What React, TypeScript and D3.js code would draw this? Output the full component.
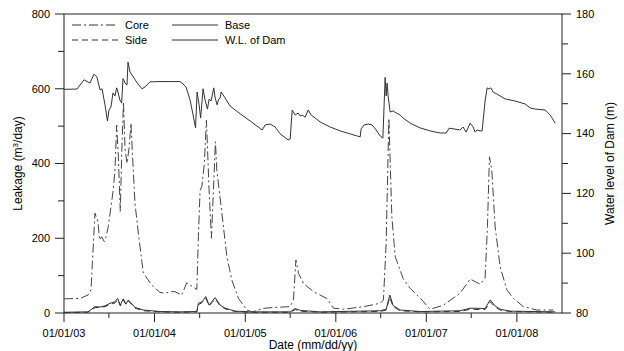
import React, { useEffect, useRef } from "react";
import * as d3 from "d3";

// decimal year, value (m) — W.L. of Dam (right axis)
const wlData: [number, number][] = [
  [2003.0, 154.8], [2003.144, 154.9], [2003.221, 158.0], [2003.287, 156.9], [2003.331, 159.9],
  [2003.364, 158.9], [2003.398, 154.6], [2003.42, 155.0], [2003.453, 149.6], [2003.48, 144.2],
  [2003.497, 147.9], [2003.519, 148.9], [2003.541, 153.6], [2003.563, 152.6], [2003.582, 155.3],
  [2003.596, 153.9], [2003.618, 151.2], [2003.637, 150.2], [2003.652, 158.4], [2003.681, 156.6],
  [2003.696, 156.3], [2003.707, 163.9], [2003.729, 160.6], [2003.773, 158.6], [2003.817, 156.6],
  [2003.861, 155.0], [2003.895, 155.6], [2003.95, 157.3], [2004.06, 157.4], [2004.171, 157.4],
  [2004.281, 157.4], [2004.314, 156.6], [2004.347, 155.6], [2004.392, 151.2], [2004.425, 146.2],
  [2004.452, 141.9], [2004.469, 153.9], [2004.491, 149.6], [2004.508, 145.2], [2004.535, 155.0],
  [2004.557, 151.2], [2004.583, 148.2], [2004.601, 151.5], [2004.623, 150.9], [2004.653, 155.3],
  [2004.668, 151.9], [2004.69, 149.6], [2004.706, 151.5], [2004.723, 151.9], [2004.734, 153.9],
  [2004.778, 151.9], [2004.833, 149.2], [2004.944, 146.6], [2005.054, 144.2], [2005.187, 141.2],
  [2005.22, 142.9], [2005.275, 143.2], [2005.33, 142.2], [2005.385, 139.9], [2005.474, 137.9],
  [2005.496, 138.2], [2005.518, 147.9], [2005.551, 146.2], [2005.584, 146.9], [2005.606, 145.9],
  [2005.628, 146.2], [2005.662, 145.5], [2005.695, 147.9], [2005.728, 146.2], [2005.772, 145.2],
  [2005.827, 143.9], [2005.938, 142.2], [2006.048, 140.9], [2006.159, 139.9], [2006.269, 138.9],
  [2006.28, 141.6], [2006.313, 142.9], [2006.357, 143.2], [2006.401, 142.9], [2006.446, 141.2],
  [2006.49, 139.2], [2006.52, 138.5], [2006.545, 158.8], [2006.556, 152.6], [2006.567, 156.9],
  [2006.578, 152.6], [2006.6, 147.2], [2006.633, 147.6], [2006.667, 146.9], [2006.711, 146.2],
  [2006.744, 145.2], [2006.821, 143.5], [2006.932, 141.9], [2007.042, 140.9], [2007.152, 140.2],
  [2007.219, 140.2], [2007.252, 141.8], [2007.318, 141.5], [2007.373, 141.2], [2007.406, 142.2],
  [2007.44, 140.5], [2007.484, 143.5], [2007.517, 142.2], [2007.539, 140.5], [2007.561, 141.2],
  [2007.594, 140.9], [2007.616, 140.9], [2007.649, 150.9], [2007.672, 155.3], [2007.694, 154.9],
  [2007.712, 155.3], [2007.738, 153.9], [2007.782, 153.2], [2007.87, 151.6], [2007.981, 150.9],
  [2008.091, 149.9], [2008.146, 148.6], [2008.202, 148.2], [2008.312, 147.9], [2008.367, 146.2],
  [2008.423, 143.5],
];

// decimal year, leakage (m3/day) — Core
const coreData: [number, number][] = [
  [2003.0, 38], [2003.177, 39], [2003.265, 48], [2003.298, 62], [2003.342, 267], [2003.375, 244],
  [2003.394, 195], [2003.416, 204], [2003.445, 191], [2003.464, 204], [2003.489, 231],
  [2003.544, 329], [2003.563, 383], [2003.582, 503], [2003.6, 420], [2003.622, 272],
  [2003.637, 420], [2003.657, 565], [2003.674, 440], [2003.696, 400], [2003.718, 440],
  [2003.74, 508], [2003.757, 420], [2003.784, 294], [2003.821, 214], [2003.876, 107],
  [2003.969, 75], [2004.06, 55], [2004.115, 53], [2004.171, 57], [2004.226, 57], [2004.3, 48],
  [2004.355, 81], [2004.466, 63], [2004.483, 204], [2004.502, 329], [2004.521, 338],
  [2004.549, 400], [2004.572, 516], [2004.601, 330], [2004.627, 200], [2004.649, 330],
  [2004.671, 458], [2004.686, 383], [2004.742, 267], [2004.797, 151], [2004.852, 88],
  [2004.925, 39], [2005.018, 8], [2005.073, 3], [2005.22, 13], [2005.33, 15], [2005.496, 17],
  [2005.532, 35], [2005.559, 142], [2005.588, 106], [2005.643, 79], [2005.753, 57],
  [2005.901, 39], [2005.974, 13], [2006.085, 10], [2006.306, 17], [2006.49, 26], [2006.526, 35],
  [2006.556, 186], [2006.586, 521], [2006.619, 258], [2006.656, 151], [2006.744, 92],
  [2006.821, 66], [2006.876, 53], [2006.932, 40], [2007.042, 10], [2007.189, 21],
  [2007.373, 53], [2007.484, 91], [2007.594, 77], [2007.649, 93], [2007.675, 231],
  [2007.697, 418], [2007.723, 383], [2007.76, 231], [2007.815, 124], [2007.889, 62],
  [2007.962, 39], [2008.072, 17], [2008.22, 8], [2008.404, 8],
];

// Side
const sideData: [number, number][] = [
  [2003.0, 1], [2003.265, 2], [2003.342, 14], [2003.398, 15], [2003.453, 17], [2003.508, 23],
  [2003.563, 27], [2003.593, 36], [2003.622, 19], [2003.655, 35], [2003.685, 22], [2003.71, 32],
  [2003.74, 25], [2003.784, 13], [2003.876, 6], [2004.06, 3], [2004.281, 2], [2004.466, 3],
  [2004.483, 22], [2004.524, 28], [2004.565, 40], [2004.601, 19], [2004.668, 38], [2004.723, 19],
  [2004.778, 11], [2004.889, 4], [2005.054, 2], [2005.496, 2], [2005.551, 9], [2005.606, 5],
  [2005.827, 2], [2006.49, 4], [2006.556, 8], [2006.597, 42], [2006.633, 17], [2006.711, 6],
  [2006.932, 3], [2007.373, 4], [2007.484, 10], [2007.649, 9], [2007.705, 30], [2007.76, 16],
  [2007.815, 8], [2007.925, 4], [2008.423, 2],
];

// Base
const baseData: [number, number][] = [
  [2003.0, 2], [2003.265, 3], [2003.342, 17], [2003.398, 16], [2003.453, 19], [2003.508, 26],
  [2003.563, 30], [2003.593, 39], [2003.622, 21], [2003.655, 38], [2003.685, 24], [2003.71, 35],
  [2003.74, 27], [2003.784, 15], [2003.876, 8], [2004.06, 4], [2004.281, 3], [2004.466, 4],
  [2004.483, 26], [2004.524, 30], [2004.565, 44], [2004.601, 21], [2004.668, 41], [2004.723, 21],
  [2004.778, 13], [2004.889, 5], [2005.054, 3], [2005.496, 3], [2005.551, 12], [2005.606, 7],
  [2005.827, 3], [2006.49, 6], [2006.556, 10], [2006.597, 48], [2006.633, 20], [2006.711, 8],
  [2006.932, 4], [2007.373, 6], [2007.484, 13], [2007.649, 12], [2007.705, 35], [2007.76, 19],
  [2007.815, 10], [2007.925, 5], [2008.423, 3],
];

const leftTicks = [0, 200, 400, 600, 800];
const rightTicks = [80, 100, 120, 140, 160, 180];
const yearTicks = [2003, 2004, 2005, 2006, 2007, 2008];
const legendItems = [
  { label: "Core", dash: "9,3,2,3", col: 0, row: 0 },
  { label: "Side", dash: "6,4", col: 0, row: 1 },
  { label: "Base", dash: "", col: 1, row: 0 },
  { label: "W.L. of Dam", dash: "", col: 1, row: 1 },
];

function fy(t: number): Date {
  const y = Math.floor(t);
  const s = new Date(y, 0, 1).getTime();
  const e = new Date(y + 1, 0, 1).getTime();
  return new Date(s + (t - y) * (e - s));
}

export default function App() {
  const ref = useRef<SVGSVGElement>(null);
  useEffect(() => {
    const L = 64, R = 562, T = 14, B = 313;
    const svg = d3.select(ref.current);
    svg.selectAll("*").remove();
    const font = "'Liberation Sans', Arial, sans-serif";
    const ink = "#222";

    const x = d3.scaleTime().domain([new Date(2003, 0, 1), new Date(2008, 6, 1)]).range([L, R]);
    const yL = d3.scaleLinear().domain([0, 800]).range([B, T]);
    const yR = d3.scaleLinear().domain([80, 180]).range([B, T]);

    const g = svg.append("g");

    // left axis
    d3.range(0, 801, 100).forEach(v => {
      const major = v % 200 === 0;
      g.append("line").attr("x1", L - (major ? 9 : 6)).attr("x2", L).attr("y1", yL(v)).attr("y2", yL(v)).attr("stroke", ink).attr("stroke-width", 1);
    });
    leftTicks.forEach(v => {
      g.append("text").attr("x", L - 14).attr("y", yL(v)).attr("dy", "0.35em").attr("text-anchor", "end")
        .attr("font-family", font).attr("font-size", 11).attr("fill", "#000").text(v);
    });

    // right axis
    d3.range(80, 181, 10).forEach(v => {
      const major = v % 20 === 0;
      g.append("line").attr("x1", R).attr("x2", R + (major ? 9 : 6)).attr("y1", yR(v)).attr("y2", yR(v)).attr("stroke", ink).attr("stroke-width", 1);
    });
    rightTicks.forEach(v => {
      g.append("text").attr("x", R + 14).attr("y", yR(v)).attr("dy", "0.35em").attr("text-anchor", "start")
        .attr("font-family", font).attr("font-size", 11).attr("fill", "#000").text(v);
    });

    // bottom axis
    const fmt = d3.timeFormat("%m/%d/%y");
    yearTicks.forEach(yr => {
      const d = new Date(yr, 0, 1);
      g.append("line").attr("x1", x(d)).attr("x2", x(d)).attr("y1", B).attr("y2", B + 9).attr("stroke", ink);
      g.append("text").attr("x", x(d)).attr("y", B + 24).attr("text-anchor", "middle")
        .attr("font-family", font).attr("font-size", 11).attr("fill", "#000").text(fmt(d));
      if (yr < 2008) {
        const m = new Date(yr, 6, 1);
        g.append("line").attr("x1", x(m)).attr("x2", x(m)).attr("y1", B).attr("y2", B + 5).attr("stroke", ink);
      }
    });

    // frame
    g.append("rect").attr("x", L).attr("y", T).attr("width", R - L).attr("height", B - T)
      .attr("fill", "none").attr("stroke", ink).attr("stroke-width", 1);

    // axis titles
    g.append("text").attr("transform", `translate(22,${(T + B) / 2}) rotate(-90)`).attr("text-anchor", "middle")
      .attr("font-family", font).attr("font-size", 12).attr("fill", "#000")
      .html("Leakage (m<tspan dy='-4' font-size='8'>3</tspan><tspan dy='4'>/day)</tspan>");
    g.append("text").attr("transform", `translate(614,${(T + B) / 2}) rotate(-90)`).attr("text-anchor", "middle")
      .attr("font-family", font).attr("font-size", 12).attr("fill", "#000").text("Water level of Dam (m)");
    g.append("text").attr("x", (L + R) / 2).attr("y", 349).attr("text-anchor", "middle")
      .attr("font-family", font).attr("font-size", 12).attr("fill", "#000").text("Date (mm/dd/yy)");

    // lines
    const lineL = d3.line<[number, number]>().x(d => x(fy(d[0]))).y(d => yL(d[1]));
    const lineR = d3.line<[number, number]>().x(d => x(fy(d[0]))).y(d => yR(d[1]));
    g.append("path").attr("d", lineL(baseData)).attr("fill", "none").attr("stroke", "#333").attr("stroke-width", 1);
    g.append("path").attr("d", lineL(sideData)).attr("fill", "none").attr("stroke", "#333").attr("stroke-width", 1).attr("stroke-dasharray", "6,4");
    g.append("path").attr("d", lineL(coreData)).attr("fill", "none").attr("stroke", "#444").attr("stroke-width", 1).attr("stroke-dasharray", "9,3,2,3");
    g.append("path").attr("d", lineR(wlData)).attr("fill", "none").attr("stroke", "#333").attr("stroke-width", 1);

    // legend
    legendItems.forEach(it => {
      const lx = 72 + it.col * 100;
      const ly = 25 + it.row * 15;
      const ln = g.append("line").attr("x1", lx).attr("x2", lx + 46).attr("y1", ly).attr("y2", ly)
        .attr("stroke", "#333").attr("stroke-width", 1);
      if (it.dash) ln.attr("stroke-dasharray", it.dash);
      g.append("text").attr("x", lx + 53).attr("y", ly).attr("dy", "0.35em")
        .attr("font-family", font).attr("font-size", 11).attr("fill", "#000").text(it.label);
    });
  }, []);
  return (
    <svg ref={ref} width={624} height={351} style={{ position: "absolute", left: 0, top: 0, background: "#fff" }} />
  );
}
